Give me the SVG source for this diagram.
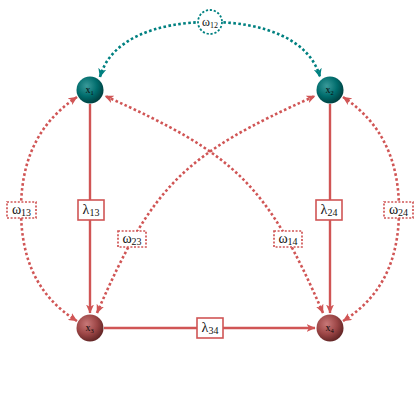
<svg xmlns="http://www.w3.org/2000/svg" width="420" height="420" viewBox="0 0 420 420">
<style>
.solid{fill:none;stroke:#d05555;stroke-width:2.4}
.dotr{fill:none;stroke:#d05555;stroke-width:2.6;stroke-dasharray:2.6 2.4}
.dott{fill:none;stroke:#008080;stroke-width:2.6;stroke-dasharray:2.6 2.4}
.lbl{font-family:"Liberation Serif","DejaVu Serif",serif;font-size:14px;fill:#111;text-anchor:middle}
.sub{font-size:10px}
.nl{font-family:"Liberation Serif","DejaVu Serif",serif;font-size:10px;fill:#0a0a0a;text-anchor:middle}
.nsub{font-size:6.5px}
.boxs{fill:#fff;stroke:#d05555;stroke-width:1.6}
.boxd{fill:#fff;stroke:#d05555;stroke-width:1.7;stroke-dasharray:2 1.6}
</style>
<defs>
<radialGradient id="gt" cx="0.38" cy="0.35" r="0.7">
<stop offset="0" stop-color="#3a9a9a"/>
<stop offset="0.55" stop-color="#006c6c"/>
<stop offset="1" stop-color="#003a3a"/>
</radialGradient>
<radialGradient id="gr" cx="0.38" cy="0.35" r="0.7">
<stop offset="0" stop-color="#c87878"/>
<stop offset="0.55" stop-color="#9c4646"/>
<stop offset="1" stop-color="#5c2222"/>
</radialGradient>
<marker id="ar" viewBox="0 0 9 8" refX="8.5" refY="4" markerWidth="9" markerHeight="8" markerUnits="userSpaceOnUse" orient="auto-start-reverse">
<path d="M0,0 L9,4 L0,8 L2.5,4 z" fill="#d05555"/>
</marker>
<marker id="at" viewBox="0 0 9 8" refX="8.5" refY="4" markerWidth="9" markerHeight="8" markerUnits="userSpaceOnUse" orient="auto-start-reverse">
<path d="M0,0 L9,4 L0,8 L2.5,4 z" fill="#008080"/>
</marker>
</defs>
<g id="connectors">
<path class="dott" d="M100,77 C110,40 155,22 210,22 C265,22 310,40 320,77" marker-start="url(#at)" marker-end="url(#at)"/>
<path class="solid" d="M90,104 L90,313" marker-end="url(#ar)"/>
<path class="solid" d="M330,104 L330,313" marker-end="url(#ar)"/>
<path class="solid" d="M104,328 L315,328" marker-end="url(#ar)"/>
<path class="dotr" d="M77,97 C35,125 21,165 21,210 C21,255 35,295 77,321" marker-start="url(#ar)" marker-end="url(#ar)"/>
<path class="dotr" d="M343,97 C385,125 399,165 399,210 C399,255 385,295 343,321" marker-start="url(#ar)" marker-end="url(#ar)"/>
<path class="dotr" d="M97,313 C153,184 185,154 315,96" marker-start="url(#ar)" marker-end="url(#ar)"/>
<path class="dotr" d="M323,313 C267,184 235,154 105,96" marker-start="url(#ar)" marker-end="url(#ar)"/>
</g>
<g id="w12">
<circle cx="210" cy="22" r="12" fill="#fff" stroke="#008080" stroke-width="1.8" stroke-dasharray="2.2 1.8"/>
<text class="lbl" x="210" y="26" style="font-size:12px">ω<tspan class="sub" style="font-size:8px" dy="2">12</tspan></text>
</g>
<g id="l13">
<rect class="boxs" x="78" y="200" width="26" height="20"/>
<text class="lbl" x="91" y="214">λ<tspan class="sub" dy="2">13</tspan></text>
</g>
<g id="l24">
<rect class="boxs" x="316" y="200" width="26" height="20"/>
<text class="lbl" x="329" y="214">λ<tspan class="sub" dy="2">24</tspan></text>
</g>
<g id="l34">
<rect class="boxs" x="197" y="318" width="26" height="20"/>
<text class="lbl" x="210" y="332">λ<tspan class="sub" dy="2">34</tspan></text>
</g>
<g id="w13">
<rect class="boxd" x="7" y="202" width="29" height="16"/>
<text class="lbl" x="21.5" y="214">ω<tspan class="sub" dy="1.5">13</tspan></text>
</g>
<g id="w24">
<rect class="boxd" x="384" y="202" width="29" height="16"/>
<text class="lbl" x="398.5" y="214">ω<tspan class="sub" dy="1.5">24</tspan></text>
</g>
<g id="w23">
<rect class="boxd" x="118" y="231" width="28" height="16"/>
<text class="lbl" x="132" y="243">ω<tspan class="sub" dy="1.5">23</tspan></text>
</g>
<g id="w14">
<rect class="boxd" x="274" y="231" width="28" height="16"/>
<text class="lbl" x="288" y="243">ω<tspan class="sub" dy="1.5">14</tspan></text>
</g>
<g id="x1">
<circle cx="90" cy="90" r="13.5" fill="url(#gt)"/>
<text class="nl" x="89.5" y="93">x<tspan class="nsub" dy="1.5">1</tspan></text>
</g>
<g id="x2">
<circle cx="330" cy="90" r="13.5" fill="url(#gt)"/>
<text class="nl" x="329.5" y="93">x<tspan class="nsub" dy="1.5">2</tspan></text>
</g>
<g id="x3">
<circle cx="90" cy="328" r="13.5" fill="url(#gr)"/>
<text class="nl" x="89.5" y="331">x<tspan class="nsub" dy="1.5">3</tspan></text>
</g>
<g id="x4">
<circle cx="330" cy="328" r="13.5" fill="url(#gr)"/>
<text class="nl" x="329.5" y="331">x<tspan class="nsub" dy="1.5">4</tspan></text>
</g>
</svg>
